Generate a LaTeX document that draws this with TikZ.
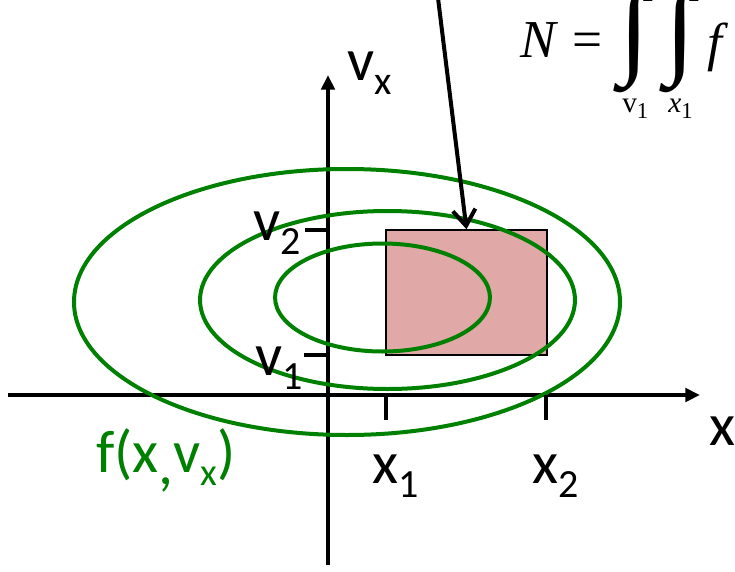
\documentclass[tikz,border=0pt]{standalone}
\usepackage{fontspec}
\setmainfont{Carlito}
\newfontfamily\tms{Liberation Serif}
\usetikzlibrary{arrows.meta}
\definecolor{cgreen}{RGB}{0,128,0}
\definecolor{cpink}{RGB}{224,168,166}
\newcommand{\lbl}{\fontsize{45}{50}\selectfont}
\newcommand{\sbs}[1]{\raisebox{-11pt}{\fontsize{30}{30}\selectfont #1}}
\newcommand{\fsbs}[1]{\raisebox{-10pt}{\fontsize{29}{29}\selectfont #1}}
\newcommand{\bigint}{\hbox{\tms\fontsize{82}{82}\selectfont ∫}}
\begin{document}
\begin{tikzpicture}[x=0.75pt,y=-0.75pt,
  axis/.style={line width=3pt,-{Triangle[length=11pt,width=10pt]}},
  tick/.style={line width=2.4pt},
  contour/.style={draw=cgreen,line width=3pt},
  lab/.style={anchor=base west,inner sep=0pt,font=\lbl},
  pointer/.style={line width=3pt,-{Straight Barb[length=12pt,width=17pt,line width=3pt]}},
  tmsf/.style={inner sep=0pt,anchor=base west}]
\useasboundingbox (0,0) rectangle (735,571);
\clip (0,0) rectangle (735,571);
% axes
\coordinate (xs) at (8,395);
\coordinate (xe) at (700,395);
\coordinate (vs) at (328,565);
\coordinate (ve) at (328,75);
\draw[axis] (xs) -- (xe);
\draw[axis] (vs) -- (ve);
% rectangle
\node[draw=black,fill=cpink,line width=1.1pt,minimum width=120.75pt,minimum height=93.75pt,inner sep=0pt] (rect) at (466.5,292.5) {};
% ellipses
\draw[contour] (382.5,297.5) ellipse [x radius=80.6pt, y radius=40.5pt];
\draw[contour] (387.5,300) ellipse [x radius=140.6pt, y radius=66.75pt];
\draw[contour] (347,302) ellipse [x radius=204.75pt, y radius=99.75pt];
% ticks
\coordinate (t2a) at (305,230); \coordinate (t2b) at (328,230);
\coordinate (t1a) at (304,355); \coordinate (t1b) at (328,355);
\coordinate (tx1a) at (386,395); \coordinate (tx1b) at (386,420);
\coordinate (tx2a) at (546,395); \coordinate (tx2b) at (546,420);
\draw[tick] (t2a) -- (t2b);
\draw[tick] (t1a) -- (t1b);
\draw[tick] (tx1a) -- (tx1b);
\draw[tick] (tx2a) -- (tx2b);
% labels
\node[lab] (lx) at (709,445) {x};
\node[lab] (lvx) at (347,80) {v\sbs{x}};
\node[lab] (lv2) at (253,240) {v\sbs{2}};
\node[lab] (lv1) at (255,375) {v\sbs{1}};
\node[lab] (lx1) at (372,483) {x\sbs{1}};
\node[lab] (lx2) at (532,483) {x\sbs{2}};
\node[anchor=base west,inner sep=0pt,text=cgreen,font=\fontsize{45}{49}\selectfont] (lf) at (96,472) {f(x\raisebox{-9pt}{,}v\fsbs{x})};
% pointer
\coordinate (src) at (437,-10);
\draw[pointer] (src) -- (rect.north);
% formula
\node[tmsf] (fN) at (520,57) {\tms\itshape\fontsize{40}{44}\selectfont N};
\node[tmsf] (feq) at (572,57) {\tms\fontsize{40}{44}\selectfont =};
\node[inner sep=0pt] (fi1) at (634,39) {\bigint};
\node[inner sep=0pt] (fi2) at (680,39) {\bigint};
\node[tmsf] (ff) at (707,60) {\tms\itshape\fontsize{40}{44}\selectfont f};
\node[tmsf] (fl1) at (622,112) {\tms\fontsize{22}{24}\selectfont v\raisebox{-5pt}{\fontsize{17}{18}\selectfont 1}};
\node[tmsf] (fl2) at (668,112) {\tms\itshape\fontsize{22}{24}\selectfont x\raisebox{-5pt}{\upshape\fontsize{17}{18}\selectfont 1}};
\node[tmsf] (fu1) at (642,2) {\tms\fontsize{17}{18}\selectfont 2};
\node[tmsf] (fu2) at (688,2) {\tms\fontsize{17}{18}\selectfont 2};
\end{tikzpicture}
\end{document}
